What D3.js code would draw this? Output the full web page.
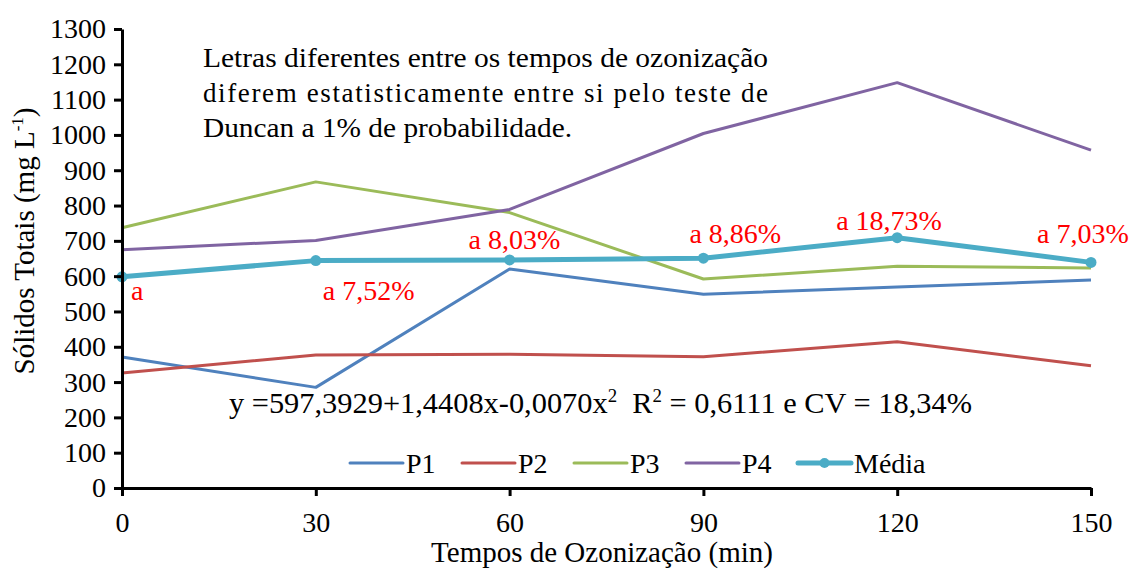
<!DOCTYPE html>
<html>
<head>
<meta charset="utf-8">
<script src="https://cdn.jsdelivr.net/npm/d3@7"></script>
<style>
  body { margin: 0; background: #fff; }
</style>
</head>
<body>
<div id="chart"></div>
<script>
// Tempos de ozonização (min)
var tempos = [0, 30, 60, 90, 120, 150];
var seriesNames = ["P1", "P2", "P3", "P4", "Média"];
var p1 = [371, 285, 620, 549, 569, 589];
var p2 = [326, 377, 379, 372, 414, 346];
var p3 = [737, 867, 780, 592, 628, 623];
var p4 = [675, 701, 789, 1004, 1148, 957];
var media = [598, 644, 646, 651, 709, 639];
var mediaLabels = ["a", "a 7,52%", "a 8,03%", "a 8,86%", "a 18,73%", "a 7,03%"];
var yTicks = d3.range(0, 1301, 100);

var width = 1130;
var height = 570;
var margin = {top: 29, right: 39, bottom: 82, left: 122};
var serif = "Liberation Serif, Times New Roman, serif";

var colors = ["#4F81BD", "#C0504D", "#9BBB59", "#8064A2", "#4BACC6"];
var allSeries = [p1, p2, p3, p4, media];

var svg = d3.select("#chart")
            .append("svg")
            .attr("width", width)
            .attr("height", height)
            .style("font-family", serif);

var xScale = d3.scaleLinear()
                .domain([0, 150])
                .range([margin.left, width - margin.right]);

var yScale = d3.scaleLinear()
                .domain([0, 1300])
                .range([height - margin.bottom, margin.top]);

var line = d3.line()
            .x(function(d, i) { return xScale(tempos[i]); })
            .y(function(d) { return yScale(d); });

// Lines (P1..P4 first, média on top)
allSeries.forEach(function(s, k) {
    svg.append("path")
        .datum(s)
        .attr("d", line)
        .attr("fill", "none")
        .attr("stroke", colors[k])
        .attr("stroke-width", k == 4 ? 5 : 3)
        .attr("stroke-linejoin", "round");
});

svg.selectAll(".dot")
    .data(media)
    .enter()
    .append("circle")
    .attr("class", "dot")
    .attr("cx", function(d, i) { return xScale(tempos[i]); })
    .attr("cy", function(d) { return yScale(d); })
    .attr("r", 5.5)
    .attr("fill", colors[4]);

// Axes
var xAxis = d3.axisBottom(xScale)
            .tickValues(tempos)
            .tickFormat(d3.format("d"))
            .tickSize(8)
            .tickSizeOuter(0)
            .tickPadding(16);

var yAxis = d3.axisLeft(yScale)
            .tickValues(yTicks)
            .tickFormat(d3.format("d"))
            .tickSize(8)
            .tickSizeOuter(0)
            .tickPadding(8);

var gx = svg.append("g")
    .attr("transform", "translate(0, " + (height - margin.bottom) + ")")
    .call(xAxis);

var gy = svg.append("g")
    .attr("transform", "translate(" + margin.left + ", 0)")
    .call(yAxis);

[gx, gy].forEach(function(g) {
    g.attr("font-family", null).attr("font-size", 28);
    g.select(".domain").attr("stroke", "#000").attr("stroke-width", 3);
    g.selectAll(".tick line").attr("stroke", "#000").attr("stroke-width", 3);
    g.selectAll(".tick text").attr("fill", "#000");
});

// Data labels, placed by hand around the média points (baseline offsets)
var labelOffsets = [[9, 23], [7, 39], [-41, -11], [-14, -15], [-61, -8], [-54, -19]];
svg.selectAll(".lbl")
    .data(mediaLabels)
    .enter()
    .append("text")
    .attr("class", "lbl")
    .attr("x", function(d, i) { return xScale(tempos[i]) + labelOffsets[i][0]; })
    .attr("y", function(d, i) { return yScale(media[i]) + labelOffsets[i][1]; })
    .attr("fill", "#FF0000")
    .attr("font-size", 28)
    .text(function(d) { return d; });

// Note about Duncan test
var note = ["Letras diferentes entre os tempos de ozonização",
            "diferem estatisticamente entre si pelo teste de",
            "Duncan a 1% de probabilidade."];
var noteLen = [565, 565, 369];
note.forEach(function(t, i) {
    svg.append("text")
        .attr("x", 203)
        .attr("y", 67 + i * 35)
        .attr("fill", "#000")
        .attr("font-size", 27)
        .attr("textLength", noteLen[i])
        .attr("lengthAdjust", i == 1 ? "spacing" : "spacingAndGlyphs")
        .text(t);
});

// Regression equation
var eq = svg.append("text")
    .attr("x", 229)
    .attr("y", 413)
    .attr("fill", "#000")
    .attr("font-size", 29)
    .attr("textLength", 743)
    .attr("lengthAdjust", "spacingAndGlyphs");
eq.append("tspan").text("y =597,3929+1,4408x-0,0070x");
eq.append("tspan").attr("dy", -11).attr("font-size", 18).text("2");
eq.append("tspan").attr("dy", 11).text("\u00a0 R");
eq.append("tspan").attr("dy", -11).attr("font-size", 18).text("2");
eq.append("tspan").attr("dy", 11).text(" = 0,6111 e CV = 18,34%");

// Legend
var legendX = [350, 462, 574, 686, 798];
var legend = svg.selectAll(".leg")
    .data(seriesNames)
    .enter()
    .append("g")
    .attr("class", "leg")
    .attr("transform", function(d, i) { return "translate(" + legendX[i] + ", 463)"; });

legend.append("line")
    .attr("x1", 0)
    .attr("x2", 53)
    .attr("stroke", function(d, i) { return colors[i]; })
    .attr("stroke-width", function(d, i) { return i == 4 ? 5 : 3; })
    .attr("stroke-linecap", "round");

legend.filter(function(d, i) { return i == 4; })
    .append("circle")
    .attr("cx", 26.5)
    .attr("r", 5)
    .attr("fill", colors[4]);

legend.append("text")
    .attr("x", 56)
    .attr("dy", "0.35em")
    .attr("fill", "#000")
    .attr("font-size", 28)
    .text(function(d) { return d; });

// X axis label
svg.append("text")
    .attr("text-anchor", "middle")
    .attr("x", 602)
    .attr("y", 562)
    .attr("fill", "#000")
    .attr("font-size", 29)
    .text("Tempos de Ozonização (min)");

// Y axis label
var yl = svg.append("text")
    .attr("text-anchor", "middle")
    .attr("transform", "translate(34, 241) rotate(-90)")
    .attr("fill", "#000")
    .attr("font-size", 29);
yl.append("tspan").text("Sólidos Totais (mg L");
yl.append("tspan").attr("dy", -11).attr("font-size", 17).text("-1");
yl.append("tspan").attr("dy", 11).text(")");
</script>
</body>
</html>
